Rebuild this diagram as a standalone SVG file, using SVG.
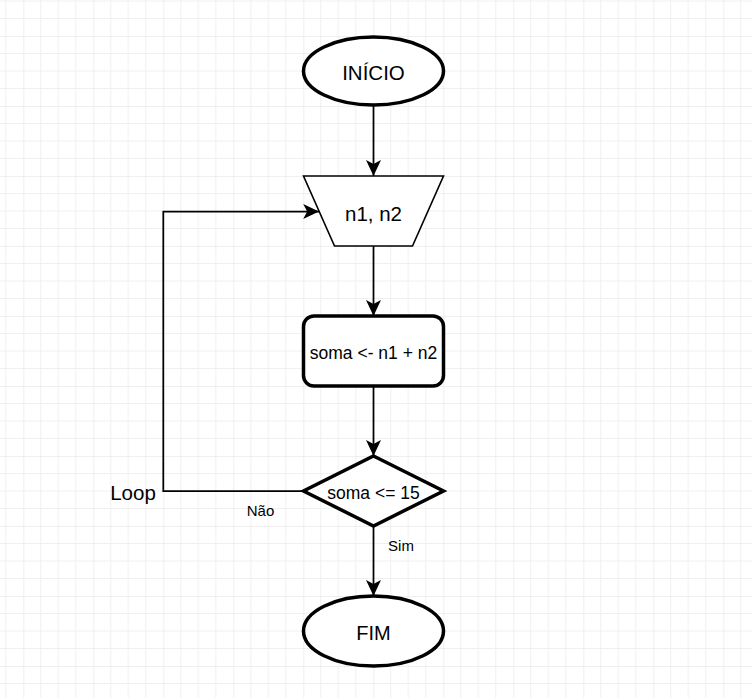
<svg xmlns="http://www.w3.org/2000/svg" width="752" height="698" viewBox="0 0 752 698">
<style>
.shape{fill:#ffffff;stroke:#000000;stroke-width:3.5}
.thin{fill:#ffffff;stroke:#000000;stroke-width:1.6}
.edge{fill:none;stroke:#000000;stroke-width:1.75}
.t{font-family:"Liberation Sans",Arial,Helvetica,sans-serif;fill:#000000;text-anchor:middle}
</style>
<defs>
<pattern id="grid" patternUnits="userSpaceOnUse" x="23.3" y="36" width="70" height="70">
<path d="M17.5,0V70M35,0V70M52.5,0V70M0,17.5H70M0,35H70M0,52.5H70" stroke="#f0f0f0" stroke-width="1" fill="none"/>
<path d="M0,0V70M0,0H70" stroke="#dfdfdf" stroke-width="1" fill="none"/>
</pattern>
<marker id="arrow" markerUnits="userSpaceOnUse" markerWidth="16" markerHeight="15" refX="16" refY="7.5" orient="auto">
<path d="M0,0 L16,7.5 L0,15 L4,7.5 Z" fill="#000000"/>
</marker>
</defs>
<rect x="0" y="0" width="752" height="698" fill="#ffffff"/>
<rect x="0" y="0" width="752" height="698" fill="url(#grid)"/>
<g id="connectors">
<path class="edge" d="M373.5,106 V176" marker-end="url(#arrow)"/>
<path class="edge" d="M373.5,246 V316" marker-end="url(#arrow)"/>
<path class="edge" d="M373.5,387 V456" marker-end="url(#arrow)"/>
<path class="edge" d="M373.5,526 V596" marker-end="url(#arrow)"/>
<path class="edge" d="M303.5,491 H163.3 V211.5 H319.2" marker-end="url(#arrow)"/>
<text class="t" x="260.5" y="516" font-size="15">Não</text>
<text class="t" x="401" y="551" font-size="15">Sim</text>
<text class="t" x="133" y="500" font-size="20.5">Loop</text>
</g>
<g id="inicio">
<ellipse class="shape" cx="373.5" cy="71" rx="70" ry="34"/>
<text class="t" x="373.5" y="80" font-size="20.5">INÍCIO</text>
</g>
<g id="entrada">
<polygon class="thin" points="303.5,176 443.5,176 412.5,246 334.5,246"/>
<text class="t" x="373.5" y="220.5" font-size="20.5">n1, n2</text>
</g>
<g id="soma">
<rect class="shape" x="303.5" y="316" width="140" height="70" rx="10.5" ry="10.5"/>
<text class="t" x="373.5" y="359" font-size="17.5">soma &lt;- n1 + n2</text>
</g>
<g id="decisao">
<polygon class="shape" points="373.5,456 443.5,491 373.5,526 303.5,491"/>
<text class="t" x="373.5" y="499" font-size="17.5">soma &lt;= 15</text>
</g>
<g id="fim">
<ellipse class="shape" cx="373.5" cy="631" rx="70" ry="35"/>
<text class="t" x="373.5" y="640" font-size="20">FIM</text>
</g>
</svg>
